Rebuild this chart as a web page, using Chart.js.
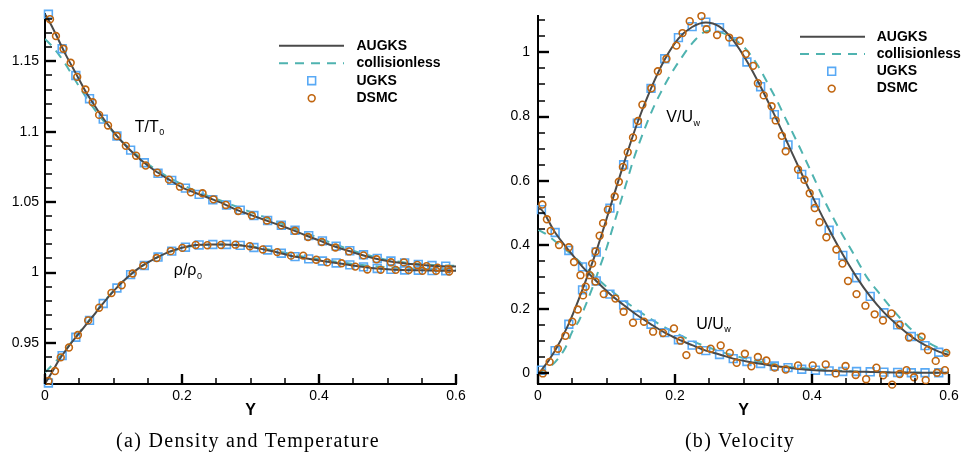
<!DOCTYPE html>
<html><head><meta charset="utf-8">
<script src="https://cdn.jsdelivr.net/npm/chart.js@4.4.1/dist/chart.umd.min.js"></script>
<style>
html,body{margin:0;padding:0;background:#fff;}
#wrap{position:relative;width:967px;height:458px;overflow:hidden;background:#fff;}
canvas{position:absolute;top:0;}
#ca{left:0;} #cb{left:483px;}
.cap{position:absolute;top:429px;font-family:"Liberation Serif","Times New Roman",serif;font-size:20px;line-height:23px;letter-spacing:1.3px;color:#000;white-space:nowrap;transform:translateX(-50%);}
</style></head><body>
<div id="wrap">
<canvas id="ca" width="483" height="458"></canvas>
<canvas id="cb" width="484" height="458"></canvas>
<div class="cap" style="left:248px">(a) Density and Temperature</div>
<div class="cap" style="left:740px">(b) Velocity</div>
</div>
<script>
// ---------- ticks / names ----------
const X_TICKS = [0, 0.2, 0.4, 0.6];
const X_TICK_LABELS = ['0', '0.2', '0.4', '0.6'];
const A_Y_TICKS = [0.95, 1, 1.05, 1.1, 1.15];
const A_Y_TICK_LABELS = ['0.95', '1', '1.05', '1.1', '1.15'];
const B_Y_TICKS = [0, 0.2, 0.4, 0.6, 0.8, 1];
const B_Y_TICK_LABELS = ['0', '0.2', '0.4', '0.6', '0.8', '1'];
const SERIES_NAMES = ['AUGKS', 'collisionless', 'UGKS', 'DSMC'];

// ---------- (a) density and temperature ----------
const A_LINE_Y = [0,0.01,0.02,0.03,0.04,0.05,0.06,0.07,0.08,0.1,0.12,0.14,0.16,0.18,0.2,0.22,0.24,0.26,0.28,0.3,0.32,0.34,0.36,0.38,0.4,0.42,0.44,0.46,0.48,0.5,0.52,0.54,0.56,0.58,0.6];
const A_T_AUGKS = [1.184,1.175,1.165,1.155,1.146,1.137,1.128,1.1205,1.113,1.100,1.089,1.080,1.0725,1.0663,1.0605,1.0565,1.0528,1.049,1.0445,1.041,1.0375,1.034,1.0305,1.0265,1.0228,1.019,1.0158,1.0128,1.0102,1.0082,1.0068,1.0058,1.005,1.0045,1.0043];
const A_T_COLL = [1.166,1.161,1.155,1.148,1.140,1.132,1.1245,1.1175,1.111,1.0995,1.0895,1.081,1.0738,1.0678,1.0625,1.058,1.054,1.0505,1.0467,1.043,1.0395,1.0358,1.032,1.0282,1.0245,1.0207,1.0172,1.014,1.0112,1.009,1.0075,1.0063,1.0055,1.005,1.0048];
const A_RHO_AUGKS = [0.921,0.929,0.9375,0.9445,0.951,0.957,0.963,0.969,0.9752,0.9868,0.9965,1.0042,1.0098,1.0145,1.0176,1.0195,1.0199,1.0199,1.0195,1.0183,1.0163,1.0143,1.0118,1.0102,1.0086,1.0071,1.0057,1.0043,1.0031,1.0023,1.0018,1.0016,1.0014,1.0013,1.0013];
const A_RHO_COLL = [0.929,0.934,0.9392,0.945,0.9515,0.9575,0.9635,0.9695,0.9755,0.987,0.9965,1.004,1.0098,1.0143,1.0174,1.0192,1.0198,1.0199,1.0196,1.0187,1.0171,1.0151,1.013,1.0111,1.0095,1.008,1.0067,1.0055,1.0045,1.0037,1.0031,1.0027,1.0025,1.0024,1.0024];
const UGKS_Y = [0.005,0.025,0.045,0.065,0.085,0.105,0.125,0.145,0.165,0.185,0.205,0.225,0.245,0.265,0.285,0.305,0.325,0.345,0.365,0.385,0.405,0.425,0.445,0.465,0.485,0.505,0.525,0.545,0.565,0.585];
const A_T_UGKS = [1.1835,1.159,1.140,1.1235,1.109,1.097,1.087,1.078,1.0705,1.0655,1.060,1.0555,1.0517,1.048,1.0443,1.0405,1.037,1.0336,1.030,1.0262,1.0225,1.0188,1.0155,1.0126,1.010,1.0082,1.0068,1.0058,1.005,1.0045];
const A_RHO_UGKS = [0.9215,0.941,0.954,0.966,0.978,0.989,0.9985,1.005,1.011,1.0152,1.018,1.0196,1.0199,1.0199,1.0193,1.0178,1.016,1.0137,1.0113,1.0097,1.0082,1.0068,1.0054,1.004,1.0029,1.0022,1.0018,1.0016,1.0014,1.0013];
const A_T_DSMC_Y = [0.0073,0.016,0.027,0.0375,0.047,0.059,0.0696,0.079,0.092,0.105,0.118,0.133,0.147,0.164,0.181,0.197,0.213,0.230,0.246,0.264,0.282,0.302,0.324,0.345,0.365,0.384,0.404,0.424,0.444,0.465,0.484,0.505,0.524,0.5435,0.557,0.573,0.589];
const A_T_DSMC = [1.180,1.168,1.159,1.149,1.139,1.130,1.121,1.112,1.1045,1.097,1.090,1.083,1.076,1.071,1.066,1.061,1.057,1.0563,1.052,1.048,1.0437,1.0405,1.037,1.0335,1.0297,1.0252,1.0217,1.0178,1.015,1.0122,1.0094,1.0073,1.0072,1.0054,1.0045,1.0035,1.0025];
const A_RHO_DSMC_Y = [0.005,0.0146,0.023,0.035,0.048,0.063,0.079,0.097,0.112,0.128,0.1435,0.163,0.1835,0.2005,0.220,0.237,0.257,0.278,0.299,0.318,0.339,0.359,0.377,0.396,0.412,0.433,0.453,0.4706,0.49,0.512,0.531,0.551,0.571,0.590];
const A_RHO_DSMC = [0.923,0.930,0.9397,0.9467,0.9556,0.966,0.975,0.9855,0.991,0.9993,1.0049,1.0103,1.0152,1.0175,1.0196,1.0194,1.0196,1.0198,1.0187,1.0164,1.0145,1.012,1.012,1.0091,1.0072,1.0066,1.0042,1.0022,1.0019,1.0019,1.0018,1.0012,1.0012,1.0007];

// ---------- (b) velocity ----------
const B_AUGKS_Y = [0,0.005,0.025,0.045,0.065,0.085,0.105,0.125,0.145,0.165,0.185,0.205,0.225,0.245,0.265,0.285,0.305,0.325,0.345,0.365,0.385,0.405,0.425,0.445,0.465,0.485,0.505,0.525,0.545,0.565,0.585,0.6];
const B_V_AUGKS = [0,0.01,0.071,0.155,0.262,0.38,0.515,0.652,0.78,0.888,0.978,1.043,1.079,1.093,1.08,1.037,0.972,0.893,0.806,0.714,0.622,0.532,0.448,0.37,0.3,0.24,0.19,0.15,0.115,0.088,0.068,0.057];
const B_U_AUGKS = [0.515,0.51,0.439,0.383,0.332,0.288,0.247,0.213,0.181,0.153,0.127,0.106,0.088,0.071,0.059,0.046,0.037,0.03,0.023,0.018,0.013,0.01,0.008,0.006,0.0055,0.0045,0.0035,0.003,0.0025,0.002,0.002,0.002];
const B_V_COLL_Y = [0,0.01,0.02,0.03,0.04,0.05,0.06,0.07,0.08,0.09,0.1,0.11,0.12,0.13,0.14,0.15,0.16,0.17,0.18,0.19,0.2,0.21,0.22,0.23,0.24,0.25,0.26,0.27,0.28,0.29,0.3,0.31,0.32,0.33,0.34,0.35,0.36,0.37,0.38,0.39,0.4,0.42,0.44,0.46,0.48,0.5,0.52,0.54,0.56,0.58,0.6];
const B_V_COLL = [0,0.012,0.025,0.048,0.08,0.13,0.165,0.215,0.27,0.33,0.39,0.46,0.53,0.6,0.67,0.73,0.785,0.835,0.878,0.918,0.953,0.985,1.015,1.04,1.06,1.067,1.066,1.06,1.05,1.036,1.018,0.993,0.962,0.925,0.885,0.845,0.8,0.757,0.713,0.668,0.622,0.53,0.449,0.375,0.3,0.245,0.193,0.147,0.11,0.084,0.065];
const B_U_COLL_Y = [0,0.01,0.02,0.03,0.04,0.05,0.06,0.07,0.08,0.1,0.12,0.14,0.16,0.18,0.2,0.22,0.24,0.26,0.28,0.3,0.32,0.34,0.36,0.38,0.4,0.42,0.44,0.46,0.48,0.5,0.52,0.54,0.56,0.58,0.6];
const B_U_COLL = [0.448,0.436,0.42,0.403,0.386,0.368,0.349,0.329,0.309,0.27,0.236,0.205,0.176,0.15,0.127,0.106,0.088,0.073,0.059,0.048,0.038,0.03,0.023,0.018,0.014,0.011,0.008,0.006,0.005,0.004,0.003,0.003,0.002,0.002,0.002];
const B_V_UGKS = [0.01,0.071,0.153,0.26,0.378,0.515,0.65,0.779,0.888,0.98,1.046,1.08,1.094,1.077,1.033,0.97,0.893,0.806,0.712,0.62,0.531,0.446,0.3675,0.298,0.24,0.189,0.151,0.115,0.0867,0.066];
const B_U_UGKS = [0.51,0.439,0.383,0.332,0.288,0.247,0.213,0.181,0.153,0.127,0.105,0.088,0.071,0.059,0.046,0.037,0.031,0.023,0.018,0.013,0.010,0.008,0.006,0.006,0.005,0.004,0.003,0.002,0.002,0.002];
const B_V_DSMC_Y = [0.007,0.017,0.029,0.04,0.05,0.058,0.0657,0.0696,0.0755,0.079,0.084,0.09,0.095,0.102,0.112,0.118,0.124,0.131,0.1387,0.146,0.1524,0.1655,0.175,0.1875,0.202,0.211,0.2215,0.2386,0.246,0.2614,0.279,0.2945,0.3033,0.314,0.321,0.3295,0.341,0.347,0.356,0.3616,0.3796,0.389,0.3966,0.404,0.411,0.421,0.4356,0.4444,0.4526,0.465,0.478,0.4915,0.5036,0.516,0.528,0.5416,0.56,0.5693,0.5806,0.596];
const B_V_DSMC = [0,0.036,0.077,0.117,0.161,0.199,0.243,0.27,0.306,0.342,0.38,0.429,0.468,0.51,0.551,0.597,0.643,0.689,0.735,0.786,0.837,0.888,0.941,0.98,1.021,1.06,1.097,1.113,1.072,1.054,1.046,1.036,0.995,0.958,0.904,0.866,0.832,0.788,0.74,0.692,0.635,0.603,0.561,0.515,0.471,0.424,0.386,0.342,0.288,0.247,0.211,0.184,0.165,0.187,0.151,0.112,0.114,0.073,0.039,0.064];
const B_U_DSMC_Y = [0.0064,0.013,0.0186,0.0307,0.045,0.0526,0.062,0.0838,0.096,0.113,0.125,0.1387,0.1547,0.168,0.1825,0.1985,0.208,0.2166,0.236,0.252,0.2667,0.28,0.29,0.302,0.3115,0.321,0.3334,0.3455,0.3616,0.3796,0.401,0.42,0.4346,0.449,0.4638,0.479,0.494,0.504,0.517,0.528,0.538,0.549,0.566,0.5825,0.594];
const B_U_DSMC = [0.526,0.48,0.444,0.40,0.393,0.347,0.306,0.286,0.247,0.233,0.192,0.158,0.161,0.13,0.126,0.14,0.102,0.057,0.073,0.077,0.087,0.064,0.033,0.061,0.022,0.051,0.04,0.018,0.012,0.025,0.025,0.028,0.0,0.023,-0.005,-0.018,0.018,-0.006,-0.035,-0.002,0.01,-0.012,-0.021,0.002,0.01];

// ---------- styling ----------
const FONT = '"Liberation Sans", Arial, Helvetica, sans-serif';
const C_AUGKS = '#4a4a4a', C_COLL = '#4fb3b0', C_UGKS = '#58a9f5', C_DSMC = '#c0650f';
const pts = (xs, ys) => xs.map((x, i) => ({x: x, y: ys[i]}));

function lineDs(name, xs, ys) {
  const dashed = name === 'collisionless';
  return {label: name, data: pts(xs, ys), showLine: true, fill: false,
    borderColor: dashed ? C_COLL : C_AUGKS, borderWidth: 2, borderDash: dashed ? [9, 7] : [],
    pointRadius: 0, cubicInterpolationMode: 'monotone', order: dashed ? 3 : 1};
}
function markDs(name, xs, ys) {
  const sq = name === 'UGKS';
  return {label: name, data: pts(xs, ys), showLine: false, fill: false,
    pointStyle: sq ? 'rect' : 'circle', pointRadius: sq ? 5.5 : 3.4, pointBorderWidth: 1.6,
    pointBorderColor: sq ? C_UGKS : C_DSMC, pointBackgroundColor: 'rgba(0,0,0,0)',
    borderColor: sq ? C_UGKS : C_DSMC, clip: false, order: sq ? 2 : 0};
}

function minorVals(min, max, step, majors) {
  const out = [];
  for (let k = Math.ceil(min / step - 1e-9); k * step <= max + 1e-9; k++) {
    const v = +(k * step).toFixed(6);
    if (!majors.some(m => Math.abs(m - v) < 1e-7)) out.push(v);
  }
  return out;
}

function makePlugins(p) {
  const decor = {
    id: 'decor',
    afterDraw(chart) {
      const ctx = chart.ctx;
      // inward ticks (major + minor) on the left and bottom axes
      const area = chart.chartArea, xs = chart.scales.x, ys = chart.scales.y;
      const B = area.bottom, L = area.left;
      ctx.save(); ctx.strokeStyle = '#000'; ctx.setLineDash([]); ctx.lineCap = 'butt';
      const seg = (x1, y1, x2, y2, w) => { ctx.lineWidth = w; ctx.beginPath(); ctx.moveTo(x1, y1); ctx.lineTo(x2, y2); ctx.stroke(); };
      X_TICKS.forEach(v => { const q = Math.round(xs.getPixelForValue(v)); seg(q, B, q, B - 10, 2.4); });
      minorVals(0, 0.6, 0.05, X_TICKS).forEach(v => { const q = Math.round(xs.getPixelForValue(v)); seg(q, B, q, B - 6, 1.5); });
      p.yTicks.forEach(v => { const q = Math.round(ys.getPixelForValue(v)); seg(L, q, L + 11, q, 2.4); });
      minorVals(p.yMin, p.yMax, p.yMinorStep, p.yTicks).forEach(v => { const q = Math.round(ys.getPixelForValue(v)); seg(L, q, L + 7, q, 1.5); });
      ctx.restore();
      // legend
      const o = p.legend; ctx.save();
      SERIES_NAMES.forEach((name, i) => {
        const d = chart.data.datasets.find(s => s.label === name);
        const y = o.y0 + i * o.gap;
        if (d.showLine) {
          ctx.strokeStyle = d.borderColor; ctx.lineWidth = d.borderWidth; ctx.setLineDash(d.borderDash);
          ctx.beginPath(); ctx.moveTo(o.x0, y); ctx.lineTo(o.x1, y); ctx.stroke(); ctx.setLineDash([]);
        } else {
          ctx.strokeStyle = d.pointBorderColor; ctx.lineWidth = d.pointBorderWidth;
          ctx.beginPath();
          if (d.pointStyle === 'rect') { const h = d.pointRadius * Math.SQRT1_2; ctx.rect(o.mx - h, y - h, 2 * h, 2 * h); }
          else ctx.arc(o.mx, y, d.pointRadius, 0, Math.PI * 2);
          ctx.stroke();
        }
        ctx.fillStyle = '#000'; ctx.font = 'bold 14px ' + FONT; ctx.textAlign = 'left'; ctx.textBaseline = 'middle';
        ctx.fillText(name, o.tx, y);
      });
      ctx.restore();
      // curve annotations with subscripts
      ctx.save(); ctx.fillStyle = '#000'; ctx.textAlign = 'left'; ctx.textBaseline = 'alphabetic';
      p.labels.forEach(a => {
        const x = xs.getPixelForValue(a.x), y = ys.getPixelForValue(a.y);
        ctx.font = '16px ' + FONT; ctx.fillText(a.main, x, y);
        const w = ctx.measureText(a.main).width;
        ctx.font = '9px ' + FONT; ctx.fillText(a.sub, x + w + 0.5, y + 3.5);
      });
      ctx.restore();
    }
  };
  return [decor];
}

function makeChart(id, p) {
  return new Chart(document.getElementById(id), {
    type: 'line',
    data: {datasets: p.datasets},
    options: {
      responsive: false, animation: false, devicePixelRatio: 1, events: [],
      layout: {padding: p.padding},
      plugins: {legend: {display: false}, tooltip: {enabled: false}, title: {display: false}},
      scales: {
        x: {type: 'linear', min: 0, max: 0.6, bounds: 'data',
          afterFit: s => { s.height = 74; },
          afterBuildTicks: s => { s.ticks = X_TICKS.map(v => ({value: v})); },
          ticks: {callback: (v, i) => X_TICK_LABELS[i], font: {family: FONT, size: 14}, color: '#000', padding: 4, maxRotation: 0, autoSkip: false},
          grid: {display: false, drawTicks: false},
          border: {display: true, color: '#000', width: 2},
          title: {display: true, text: 'Y', color: '#000', font: {family: FONT, size: 16, weight: 'bold'}, padding: {top: 0, bottom: 38}}
        },
        y: {type: 'linear', min: p.yMin, max: p.yMax, bounds: 'data',
          afterFit: s => { s.width = p.yWidth; },
          afterBuildTicks: s => { s.ticks = p.yTicks.map(v => ({value: v})); },
          ticks: {callback: (v, i) => p.yLabels[i], font: {family: FONT, size: 14}, color: '#000', padding: p.yPad, autoSkip: false},
          grid: {display: false, drawTicks: false},
          border: {display: true, color: '#000', width: 2}
        }
      }
    },
    plugins: makePlugins(p)
  });
}

makeChart('ca', {
  datasets: [
    lineDs('AUGKS', A_LINE_Y, A_T_AUGKS), lineDs('collisionless', A_LINE_Y, A_T_COLL),
    markDs('UGKS', UGKS_Y, A_T_UGKS), markDs('DSMC', A_T_DSMC_Y, A_T_DSMC),
    lineDs('AUGKS', A_LINE_Y, A_RHO_AUGKS), lineDs('collisionless', A_LINE_Y, A_RHO_COLL),
    markDs('UGKS', UGKS_Y, A_RHO_UGKS), markDs('DSMC', A_RHO_DSMC_Y, A_RHO_DSMC)
  ],
  padding: {left: 0, top: 9, right: 27, bottom: 0},
  yMin: 0.9208, yMax: 1.1834, yTicks: A_Y_TICKS, yLabels: A_Y_TICK_LABELS, yMinorStep: 0.01, yWidth: 45, yPad: 6,
  legend: {x0: 279, x1: 344, mx: 311.7, tx: 356.5, y0: 45.7, gap: 17.5},
  labels: [{x: 0.131, y: 1.0999, main: 'T/T', sub: '0'}, {x: 0.188, y: 0.998, main: 'ρ/ρ', sub: '0'}]
});

makeChart('cb', {
  datasets: [
    lineDs('AUGKS', B_AUGKS_Y, B_V_AUGKS), lineDs('collisionless', B_V_COLL_Y, B_V_COLL),
    markDs('UGKS', UGKS_Y, B_V_UGKS), markDs('DSMC', B_V_DSMC_Y, B_V_DSMC),
    lineDs('AUGKS', B_AUGKS_Y, B_U_AUGKS), lineDs('collisionless', B_U_COLL_Y, B_U_COLL),
    markDs('UGKS', UGKS_Y, B_U_UGKS), markDs('DSMC', B_U_DSMC_Y, B_U_DSMC)
  ],
  padding: {left: 0, top: 10, right: 18, bottom: 0},
  yMin: -0.033, yMax: 1.112, yTicks: B_Y_TICKS, yLabels: B_Y_TICK_LABELS, yMinorStep: 0.05, yWidth: 55, yPad: 8,
  legend: {x0: 317, x1: 382, mx: 348.7, tx: 393.7, y0: 36.7, gap: 17.3},
  labels: [{x: 0.1874, y: 0.782, main: 'V/U', sub: 'w'}, {x: 0.231, y: 0.139, main: 'U/U', sub: 'w'}]
});
</script>
</body></html>
